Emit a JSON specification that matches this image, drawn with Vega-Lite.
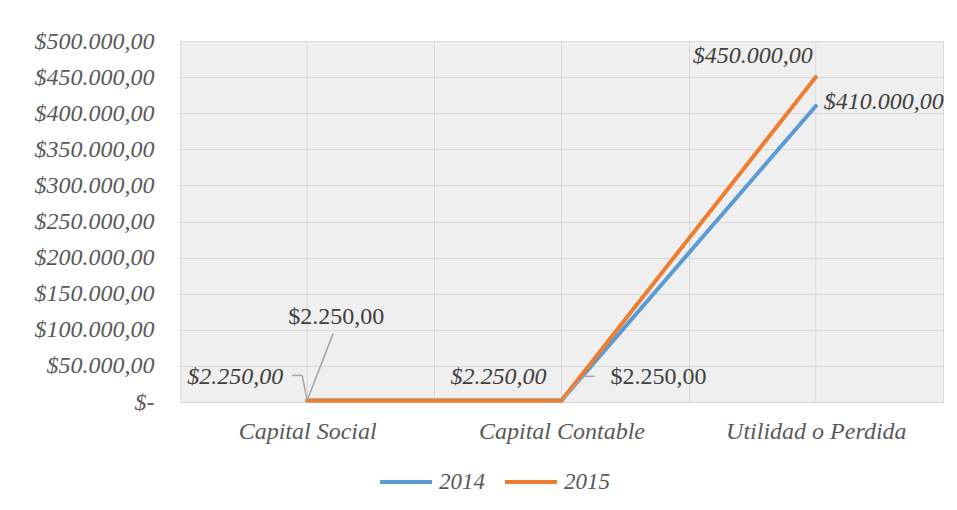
{
  "$schema": "https://vega.github.io/schema/vega-lite/v6.json",
  "width": 763,
  "height": 361,
  "autosize": {"type": "none"},
  "padding": {"left": 180, "top": 41, "right": 14, "bottom": 108},
  "background": "white",
  "config": {
    "locale": {"number": {"decimal": ",", "thousands": ".", "grouping": [3], "currency": ["$", ""]}},
    "font": "Liberation Serif",
    "view": {"fill": "#efefef", "stroke": "#d9d9d9"}
  },
  "data": {"values": [
    {"cat": "Capital Social", "year": "2014", "value": 2250},
    {"cat": "Capital Contable", "year": "2014", "value": 2250},
    {"cat": "Utilidad o Perdida", "year": "2014", "value": 410000},
    {"cat": "Capital Social", "year": "2015", "value": 2250},
    {"cat": "Capital Contable", "year": "2015", "value": 2250},
    {"cat": "Utilidad o Perdida", "year": "2015", "value": 450000}
  ]},
  "encoding": {
    "x": {"field": "cat", "type": "nominal", "sort": null, "bandPosition": 0.5,
      "scale": {"type": "band", "paddingInner": 0, "paddingOuter": 0},
      "axis": {"title": null, "labelAngle": 0, "labelFont": "Liberation Serif", "labelFontSize": 24, "labelFontStyle": "italic", "labelColor": "#595959", "labelPadding": 17, "labelLimit": 300, "ticks": false, "domain": false, "grid": true, "tickBand": "extent", "gridColor": "#d9d9d9", "gridWidth": 1}},
    "y": {"field": "value", "type": "quantitative",
      "scale": {"domain": [0, 500000]},
      "axis": {"title": null, "values": [0, 50000, 100000, 150000, 200000, 250000, 300000, 350000, 400000, 450000, 500000], "format": "$,.2f", "labelExpr": "datum.value == 0 ? '$-' : datum.label", "labelFont": "Liberation Serif", "labelFontSize": 24, "labelFontStyle": "italic", "labelColor": "#595959", "labelPadding": 26, "labelLimit": 300, "ticks": false, "domain": false, "gridColor": "#d9d9d9", "gridWidth": 1}}
  },
  "layer": [
    {"mark": {"type": "rule", "color": "#d9d9d9", "strokeWidth": 1},
     "transform": [{"filter": "datum.year == '2014'"}],
     "encoding": {"y": null}},
    {"mark": {"type": "line", "strokeWidth": 4, "strokeCap": "round"},
     "encoding": {
       "color": {"field": "year", "type": "nominal",
         "scale": {"domain": ["2014", "2015"], "range": ["#5B9BD5", "#ED7D31"]},
         "legend": {"title": null, "orient": "none", "legendX": 198, "legendY": 413, "direction": "horizontal", "symbolType": "stroke", "symbolSize": 2704, "symbolStrokeWidth": 4, "labelFont": "Liberation Serif", "labelFontSize": 23, "labelFontStyle": "italic", "labelColor": "#595959", "labelOffset": 5, "columnPadding": 12}}
     }},
    {"mark": {"type": "rule", "color": "#a6a6a6", "strokeWidth": 1.5, "x2Offset": 26, "y2Offset": -67},
     "transform": [{"filter": "datum.year == '2014' && datum.cat == 'Capital Social'"}],
     "encoding": {"x2": {"field": "cat", "bandPosition": 0.5}, "y2": {"field": "value"}}},
    {"mark": {"type": "rule", "color": "#a6a6a6", "strokeWidth": 1.5, "x2Offset": -5, "y2Offset": -25},
     "transform": [{"filter": "datum.year == '2015' && datum.cat == 'Capital Social'"}],
     "encoding": {"x2": {"field": "cat", "bandPosition": 0.5}, "y2": {"field": "value"}}},
    {"mark": {"type": "rule", "color": "#a6a6a6", "strokeWidth": 1.5, "xOffset": -5, "yOffset": -25, "x2Offset": -15, "y2Offset": -25},
     "transform": [{"filter": "datum.year == '2015' && datum.cat == 'Capital Social'"}],
     "encoding": {"x2": {"field": "cat", "bandPosition": 0.5}, "y2": {"field": "value"}}},
    {"mark": {"type": "rule", "color": "#a6a6a6", "strokeWidth": 1.5, "xOffset": 2, "yOffset": -1, "x2Offset": 22, "y2Offset": -24},
     "transform": [{"filter": "datum.year == '2014' && datum.cat == 'Capital Contable'"}],
     "encoding": {"x2": {"field": "cat", "bandPosition": 0.5}, "y2": {"field": "value"}}},
    {"mark": {"type": "rule", "color": "#a6a6a6", "strokeWidth": 1.5, "xOffset": 22, "yOffset": -24, "x2Offset": 33, "y2Offset": -24},
     "transform": [{"filter": "datum.year == '2014' && datum.cat == 'Capital Contable'"}],
     "encoding": {"x2": {"field": "cat", "bandPosition": 0.5}, "y2": {"field": "value"}}},
    {"mark": {"type": "text", "font": "Liberation Serif", "fontSize": 24, "color": "#404040", "align": "center", "baseline": "middle", "dx": 29, "dy": -83},
     "transform": [{"filter": "datum.year == '2014' && datum.cat == 'Capital Social'"}],
     "encoding": {"text": {"field": "value", "format": "$,.2f"}}},
    {"mark": {"type": "text", "font": "Liberation Serif", "fontSize": 24, "fontStyle": "italic", "color": "#404040", "align": "right", "baseline": "middle", "dx": -24, "dy": -23},
     "transform": [{"filter": "datum.year == '2015' && datum.cat == 'Capital Social'"}],
     "encoding": {"text": {"field": "value", "format": "$,.2f"}}},
    {"mark": {"type": "text", "font": "Liberation Serif", "fontSize": 24, "fontStyle": "italic", "color": "#404040", "align": "center", "baseline": "middle", "dx": -63, "dy": -23},
     "transform": [{"filter": "datum.year == '2015' && datum.cat == 'Capital Contable'"}],
     "encoding": {"text": {"field": "value", "format": "$,.2f"}}},
    {"mark": {"type": "text", "font": "Liberation Serif", "fontSize": 24, "color": "#404040", "align": "left", "baseline": "middle", "dx": 49, "dy": -23},
     "transform": [{"filter": "datum.year == '2014' && datum.cat == 'Capital Contable'"}],
     "encoding": {"text": {"field": "value", "format": "$,.2f"}}},
    {"mark": {"type": "text", "font": "Liberation Serif", "fontSize": 24, "fontStyle": "italic", "color": "#404040", "align": "right", "baseline": "middle", "dx": -3, "dy": -21},
     "transform": [{"filter": "datum.year == '2015' && datum.cat == 'Utilidad o Perdida'"}],
     "encoding": {"text": {"field": "value", "format": "$,.2f"}}},
    {"mark": {"type": "text", "font": "Liberation Serif", "fontSize": 24, "fontStyle": "italic", "color": "#404040", "align": "left", "baseline": "middle", "dx": 8, "dy": -4},
     "transform": [{"filter": "datum.year == '2014' && datum.cat == 'Utilidad o Perdida'"}],
     "encoding": {"text": {"field": "value", "format": "$,.2f"}}}
  ]
}
